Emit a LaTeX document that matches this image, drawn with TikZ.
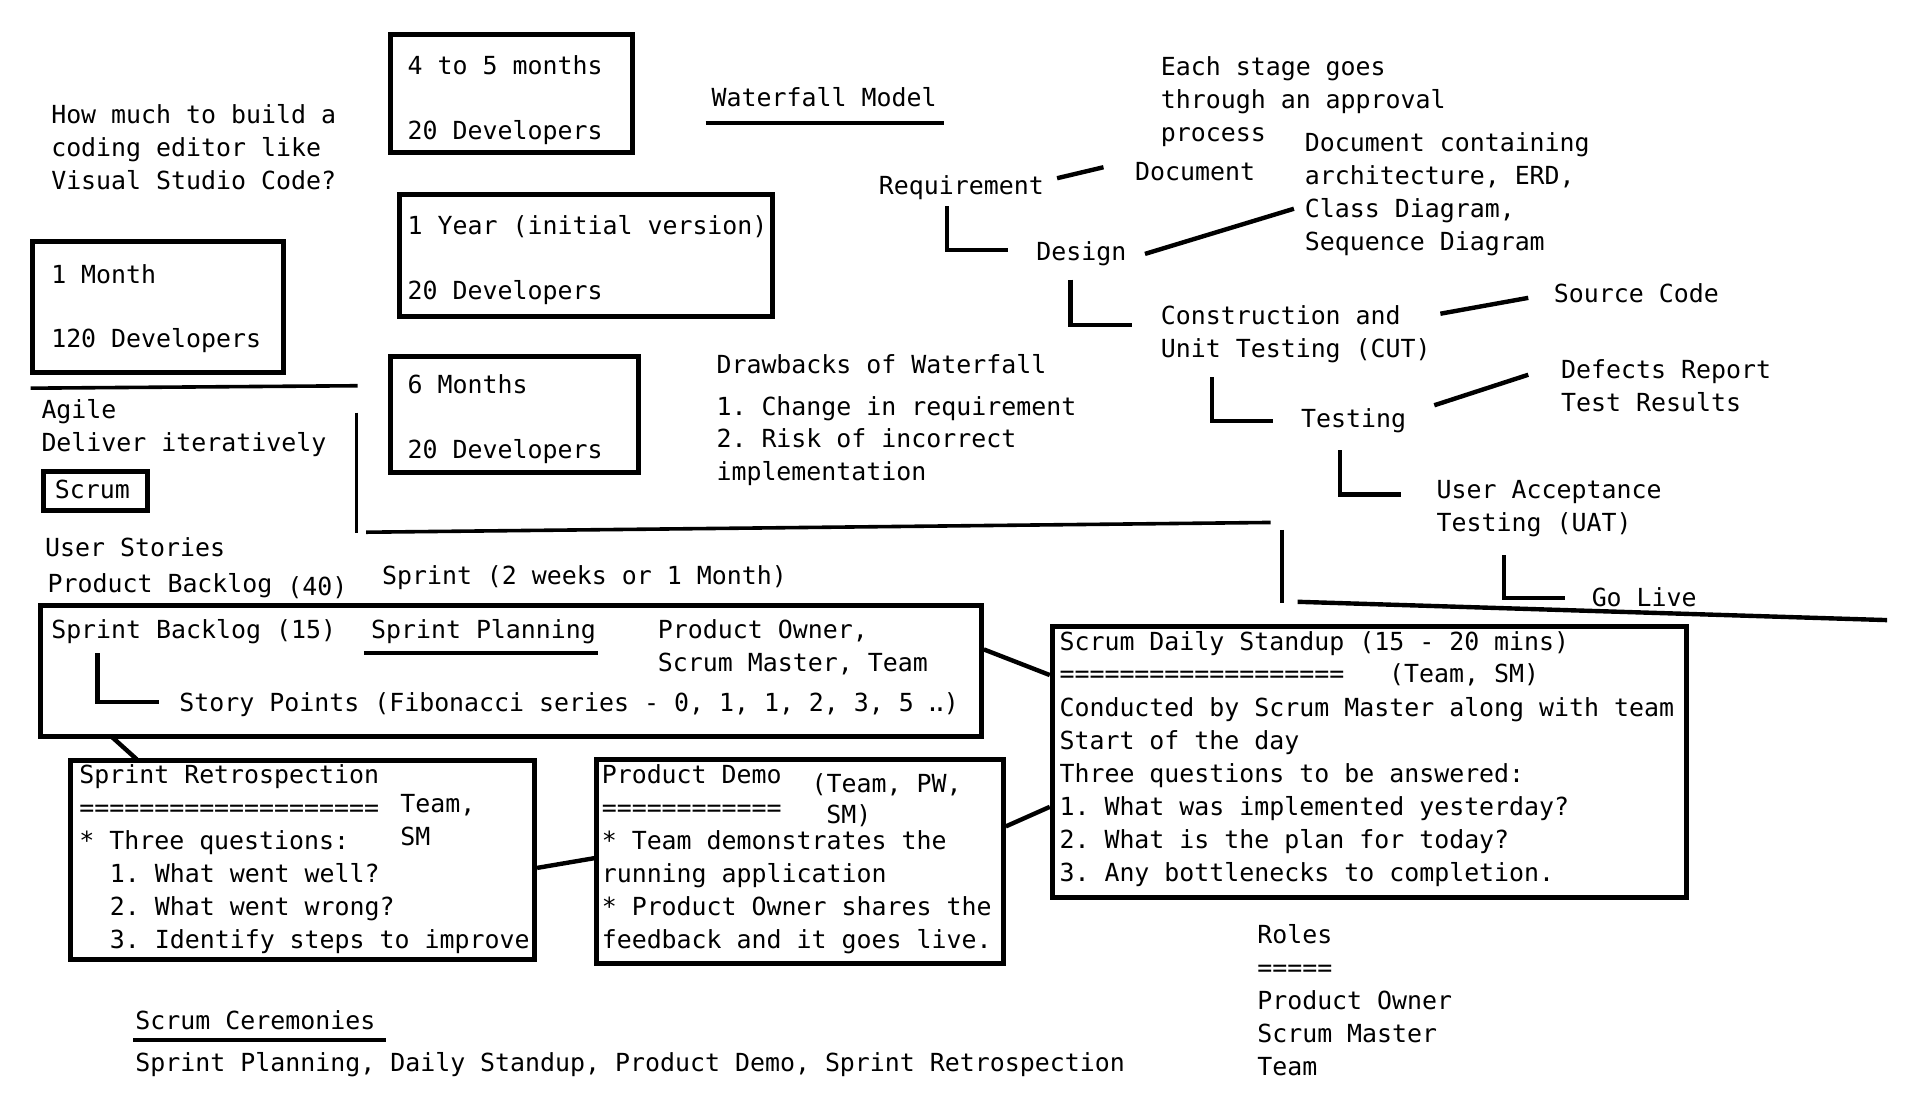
\documentclass[tikz,border=0pt]{standalone}
\usepackage{fontspec}
\newfontfamily\consfont{DejaVu Sans Mono}
\usetikzlibrary{fit}
\tikzset{
  tx/.style={anchor=base west, inner sep=0pt, outer sep=0pt, font=\consfont\fontsize{12.45pt}{16.5pt}\selectfont\frenchspacing},
  box/.style={draw, line width=2.5pt, inner sep=0pt, outer sep=0pt},
  ln/.style={line width=2.2pt},
  thinln/.style={line width=1.8pt},
}
\newcommand\ttl[4]{\node[tx] (#1) at (#2,#3) {#4};}
\begin{document}
\frenchspacing
\begin{tikzpicture}[x=0.61035pt, y=-0.61035pt]
\useasboundingbox (0,0) rectangle (1568,904);
\fill[white] (0,0) rectangle (1568,904);

% ---------- estimation question ----------
\ttl{q1}{42}{101}{How much to build a}
\ttl{q2}{42}{128}{coding editor like}
\ttl{q3}{42}{155}{Visual Studio Code?}

% ---------- estimation boxes ----------
\node[box, fit={(320,28) (518,125)}] (b45) {};
\ttl{b45a}{334}{61}{4 to 5 months}
\ttl{b45b}{334}{114}{20 Developers}

\node[box, fit={(327,159) (633,259)}] (b1y) {};
\ttl{b1ya}{334}{192}{1 Year (initial version)}
\ttl{b1yb}{334}{245}{20 Developers}

\node[box, fit={(27,198) (232,305)}] (b1m) {};
\ttl{b1ma}{42}{232}{1 Month}
\ttl{b1mb}{42}{285}{120 Developers}

\node[box, fit={(320,292) (523,387)}] (b6m) {};
\ttl{b6ma}{334}{322}{6 Months}
\ttl{b6mb}{334}{376}{20 Developers}

% ---------- waterfall ----------
\ttl{wfm}{583}{87}{Waterfall Model}
\coordinate (wfmL) at (578,101);
\coordinate (wfmR) at (773,101);
\draw[ln] (wfmL) -- (wfmR);

\ttl{appr1}{951}{62}{Each stage goes}
\ttl{appr2}{951}{89}{through an approval}
\ttl{appr3}{951}{116}{process}

\ttl{req}{720}{159}{Requirement}
\ttl{reqdoc}{930}{148}{Document}
\coordinate (rqa) at (866,146);
\coordinate (rqb) at (904,137);
\draw[ln] (rqa) -- (rqb);

\ttl{dd1}{1069}{124}{Document containing}
\ttl{dd2}{1069}{151}{architecture, ERD,}
\ttl{dd3}{1069}{178}{Class Diagram,}
\ttl{dd4}{1069}{205}{Sequence Diagram}

\coordinate (l1a) at (776,169);
\coordinate (l1b) at (776,205);
\coordinate (l1c) at (826,205);
\draw[ln] (l1a) -- (l1b) -- (l1c);
\ttl{design}{849}{213}{Design}
\coordinate (dsa) at (938,208);
\coordinate (dsb) at (1060,171);
\draw[ln] (dsa) -- (dsb);

\coordinate (l2a) at (877,229);
\coordinate (l2b) at (877,266);
\coordinate (l2c) at (927,266);
\draw[ln] (l2a) -- (l2b) -- (l2c);
\ttl{cut1}{951}{266}{Construction and}
\ttl{cut2}{951}{293}{Unit Testing (CUT)}
\coordinate (csa) at (1180,257);
\coordinate (csb) at (1252,244);
\draw[ln] (csa) -- (csb);
\ttl{src}{1273}{248}{Source Code}

\coordinate (l3a) at (993,309);
\coordinate (l3b) at (993,345);
\coordinate (l3c) at (1043,345);
\draw[ln] (l3a) -- (l3b) -- (l3c);
\ttl{testing}{1066}{350}{Testing}
\coordinate (tda) at (1175,332);
\coordinate (tdb) at (1252,307);
\draw[ln] (tda) -- (tdb);
\ttl{def1}{1279}{310}{Defects Report}
\ttl{def2}{1279}{337}{Test Results}

\coordinate (l4a) at (1098,369);
\coordinate (l4b) at (1098,405);
\coordinate (l4c) at (1148,405);
\draw[ln] (l4a) -- (l4b) -- (l4c);
\ttl{uat1}{1177}{408}{User Acceptance}
\ttl{uat2}{1177}{435}{Testing (UAT)}

\coordinate (l5a) at (1232,455);
\coordinate (l5b) at (1232,490);
\coordinate (l5c) at (1282,490);
\draw[ln] (l5a) -- (l5b) -- (l5c);
\ttl{golive}{1304}{497}{Go Live}

% ---------- drawbacks ----------
\ttl{dr0}{587}{306}{Drawbacks of Waterfall}
\ttl{dr1}{587}{340}{1. Change in requirement}
\ttl{dr2}{587}{367}{2. Risk of incorrect}
\ttl{dr3}{587}{394}{implementation}

% ---------- separators ----------
\coordinate (s1a) at (25,318);
\coordinate (s1b) at (293,316);
\draw[thinln] (s1a) -- (s1b);
\coordinate (s2a) at (292,338);
\coordinate (s2b) at (292,437);
\draw[thinln] (s2a) -- (s2b);
\coordinate (s3a) at (300,436);
\coordinate (s3b) at (1041,428);
\draw[thinln] (s3a) -- (s3b);
\coordinate (s4a) at (1050,434);
\coordinate (s4b) at (1050,494);
\draw[thinln] (s4a) -- (s4b);
\coordinate (s5a) at (1063,493);
\coordinate (s5b) at (1546,508);
\draw[ln] (s5a) -- (s5b);

% ---------- agile ----------
\ttl{agile}{34}{343}{Agile}
\ttl{deliver}{34}{370}{Deliver iteratively}
\node[box, fit={(36,386) (121,418)}] (scrumbox) {};
\ttl{scrum}{45}{408}{Scrum}
\ttl{stories}{37}{456}{User Stories}
\ttl{pbl}{39}{485}{Product Backlog \raisebox{-1.5pt}{(40)}}
\ttl{sprint}{313}{479}{Sprint (2 weeks or 1 Month)}

% ---------- sprint box ----------
\node[box, fit={(33,496) (804,603)}] (big) {};
\ttl{sbl}{42}{523}{Sprint Backlog (15)}
\ttl{splan}{304}{523}{Sprint Planning}
\coordinate (spL) at (298,535);
\coordinate (spR) at (490,535);
\draw[ln] (spL) -- (spR);
\ttl{po1}{539}{523}{Product Owner,}
\ttl{po2}{539}{550}{Scrum Master, Team}
\coordinate (l6a) at (80,535);
\coordinate (l6b) at (80,575);
\coordinate (l6c) at (130,575);
\draw[ln] (l6a) -- (l6b) -- (l6c);
\ttl{story}{147}{583}{Story Points (Fibonacci series - 0, 1, 1, 2, 3, 5 \makebox[0.6em][c]{.\kern-0.3em.})}

% ---------- standup ----------
\node[box, fit={(862,513) (1382,735)}] (standup) {};
\ttl{su1}{868}{533}{Scrum Daily Standup (15 - 20 mins)}
\ttl{su2}{868}{559}{===================}
\ttl{su2b}{1138}{559}{(Team, SM)}
\ttl{su3}{868}{587}{Conducted by Scrum Master along with team}
\ttl{su4}{868}{614}{Start of the day}
\ttl{su5}{868}{641}{Three questions to be answered:}
\ttl{su6}{868}{668}{1. What was implemented yesterday?}
\ttl{su7}{868}{695}{2. What is the plan for today?}
\ttl{su8}{868}{722}{3. Any bottlenecks to completion.}

% ---------- retrospection ----------
\node[box, fit={(58,623) (438,786)}] (retro) {};
\ttl{re1}{65}{642}{Sprint Retrospection}
\ttl{re2}{65}{669}{====================}
\ttl{re3}{65}{696}{* Three questions:}
\ttl{re4}{90}{723}{1. What went well?}
\ttl{re5}{90}{750}{2. What went wrong?}
\ttl{re6}{90}{777}{3. Identify steps to improve}
\ttl{reT}{328}{666}{Team,}
\ttl{reS}{328}{693}{SM}

% ---------- product demo ----------
\node[box, fit={(489,622) (822,789)}] (demo) {};
\ttl{de1}{493}{642}{Product Demo}
\ttl{de2}{493}{669}{============}
\ttl{de3}{493}{696}{* Team demonstrates the}
\ttl{de4}{493}{723}{running application}
\ttl{de5}{493}{750}{* Product Owner shares the}
\ttl{de6}{493}{777}{feedback and it goes live.}
\ttl{deT}{665}{649}{(Team, PW,}
\ttl{deS}{677}{675}{SM)}

% ---------- box connectors ----------
\coordinate (c1a) at (806,532);
\coordinate (c1b) at (860,553);
\draw[ln] (c1a) -- (c1b);
\coordinate (c2a) at (92,604);
\coordinate (c2b) at (112,622);
\draw[ln] (c2a) -- (c2b);
\coordinate (c3a) at (440,711);
\coordinate (c3b) at (487,703);
\draw[ln] (c3a) -- (c3b);
\coordinate (c4a) at (824,677);
\coordinate (c4b) at (860,661);
\draw[ln] (c4a) -- (c4b);

% ---------- ceremonies / roles ----------
\ttl{cer}{111}{843}{Scrum Ceremonies}
\coordinate (ceL) at (109,852);
\coordinate (ceR) at (316,852);
\draw[ln] (ceL) -- (ceR);
\ttl{cerl}{111}{878}{Sprint Planning, Daily Standup, Product Demo, Sprint Retrospection}

\ttl{ro1}{1030}{773}{Roles}
\ttl{ro2}{1030}{800}{=====}
\ttl{ro3}{1030}{827}{Product Owner}
\ttl{ro4}{1030}{854}{Scrum Master}
\ttl{ro5}{1030}{881}{Team}
\end{tikzpicture}
\end{document}
